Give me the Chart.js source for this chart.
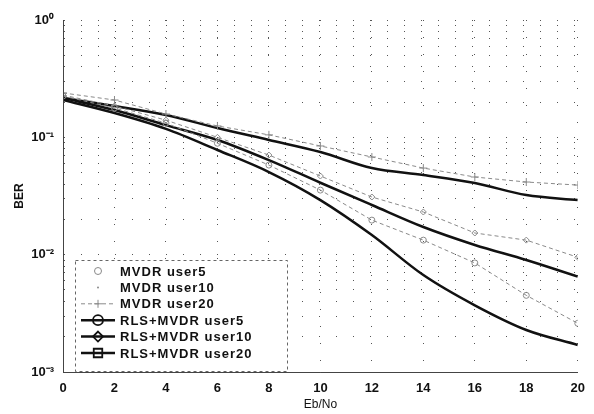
<!DOCTYPE html>
<html><head><meta charset="utf-8">
<script src="https://cdn.jsdelivr.net/npm/chart.js@4/dist/chart.umd.min.js"></script>
<style>html,body{margin:0;padding:0;background:#fff;} #wrap{width:594px;height:414px;position:relative;}</style>
</head><body><div id="wrap"><canvas id="c" width="594" height="414"></canvas></div>
<script>
// ---- data ----
const ebno = [0, 2, 4, 6, 8, 10, 12, 14, 16, 18, 20];
const mvdrUser5  = [0.225, 0.178, 0.132, 0.089, 0.058, 0.0355, 0.0197, 0.0133, 0.0085, 0.0045, 0.0026];
const mvdrUser10 = [0.229, 0.185, 0.140, 0.100, 0.0706, 0.0468, 0.031, 0.0231, 0.0153, 0.0133, 0.0095];
const mvdrUser20 = [0.239, 0.208, 0.158, 0.125, 0.105, 0.0844, 0.068, 0.0547, 0.0459, 0.0416, 0.0392];
const rlsUser5   = [0.208, 0.161, 0.118, 0.078, 0.0506, 0.0292, 0.0147, 0.0067, 0.0037, 0.00228, 0.0017];
const rlsUser10  = [0.216, 0.171, 0.127, 0.095, 0.064, 0.041, 0.0265, 0.0172, 0.0121, 0.009, 0.0065];
const rlsUser20  = [0.216, 0.185, 0.155, 0.120, 0.095, 0.075, 0.0547, 0.0477, 0.0408, 0.0322, 0.0292];
const xTickValues = [0, 2, 4, 6, 8, 10, 12, 14, 16, 18, 20];
const yDecades = [0.001, 0.01, 0.1, 1];
const yDecadeLabels = ['10\u207B\u00B3', '10\u207B\u00B2', '10\u207B\u00B9', '10\u2070'];
const seriesNames = ['MVDR user5', 'MVDR user10', 'MVDR user20', 'RLS+MVDR user5', 'RLS+MVDR user10', 'RLS+MVDR user20'];
const xTitle = 'Eb/No';
const yTitle = 'BER';

// ---- helpers ----
const pts = arr => arr.map((v, i) => ({x: ebno[i], y: v}));
const FONT = "'Liberation Sans', Arial, sans-serif";
const THIN = '#8a8a8a';

function drawMarker(ctx, style, r, x, y) {
  ctx.beginPath();
  if (style === 'circle') { ctx.arc(x, y, r, 0, Math.PI * 2); }
  else if (style === 'rectRot') { ctx.moveTo(x, y - r); ctx.lineTo(x + r, y); ctx.lineTo(x, y + r); ctx.lineTo(x - r, y); ctx.closePath(); }
  else if (style === 'rect') { ctx.rect(x - r * 0.85, y - r * 0.85, r * 1.7, r * 1.7); }
  else if (style === 'cross') { ctx.moveTo(x - r, y); ctx.lineTo(x + r, y); ctx.moveTo(x, y - r); ctx.lineTo(x, y + r); }
  else if (style === 'dot') { ctx.arc(x, y, r, 0, Math.PI * 2); ctx.fillStyle = ctx.strokeStyle; ctx.fill(); return; }
  ctx.stroke();
}

const boxLegend = {
  id: 'boxLegend',
  afterDraw(chart) {
    const ctx = chart.ctx, a = chart.chartArea;
    const x0 = a.left + 12, y0 = a.top + 240, w = 212, h = a.bottom - (a.top + 240);
    ctx.save();
    ctx.fillStyle = '#fff';
    ctx.fillRect(x0, y0, w, h);
    ctx.setLineDash([3, 3]);
    ctx.strokeStyle = '#666';
    ctx.lineWidth = 1;
    ctx.strokeRect(x0 + 0.5, y0 + 0.5, w, h - 1);
    chart.data.datasets.forEach((ds, i) => {
      const cy = y0 + 11 + i * 16.4;
      const cx = x0 + 23;
      ctx.strokeStyle = ds.borderColor;
      ctx.lineWidth = ds.borderWidth;
      ctx.setLineDash(ds.borderDash || []);
      if (ds.legendLine) {
        ctx.beginPath(); ctx.moveTo(cx - 17, cy); ctx.lineTo(cx + 17, cy); ctx.stroke();
      }
      ctx.setLineDash([]);
      ctx.lineWidth = ds.legendMarkerWidth;
      drawMarker(ctx, ds.legendMarker, ds.legendMarkerR, cx, cy);
      ctx.fillStyle = '#111';
      ctx.font = 'bold 13px ' + FONT;
      ctx.textBaseline = 'middle';
      ctx.textAlign = 'left';
      ctx.letterSpacing = '1px';
      ctx.fillText(ds.label, x0 + 45, cy + 1);
    });
    ctx.restore();
  }
};

const datasets = [
  {label: seriesNames[0], data: pts(mvdrUser5), borderColor: THIN, borderWidth: 1, borderDash: [4, 3],
   pointStyle: 'circle', pointRadius: 3, pointBorderColor: THIN, pointBackgroundColor: 'rgba(0,0,0,0)', pointBorderWidth: 1,
   legendMarker: 'circle', legendMarkerR: 3.5, legendMarkerWidth: 1, legendLine: false},
  {label: seriesNames[1], data: pts(mvdrUser10), borderColor: THIN, borderWidth: 1, borderDash: [4, 3],
   pointStyle: 'rectRot', pointRadius: 3, pointBorderColor: THIN, pointBackgroundColor: 'rgba(0,0,0,0)', pointBorderWidth: 1,
   legendMarker: 'dot', legendMarkerR: 1, legendMarkerWidth: 1, legendLine: false},
  {label: seriesNames[2], data: pts(mvdrUser20), borderColor: THIN, borderWidth: 1, borderDash: [4, 3],
   pointStyle: 'cross', pointRadius: 4, pointBorderColor: THIN, pointBackgroundColor: 'rgba(0,0,0,0)', pointBorderWidth: 1,
   legendMarker: 'cross', legendMarkerR: 4, legendMarkerWidth: 1, legendLine: true},
  {label: seriesNames[3], data: pts(rlsUser5), borderColor: '#111', borderWidth: 2.5, pointRadius: 0, cubicInterpolationMode: 'monotone',
   legendMarker: 'circle', legendMarkerR: 5, legendMarkerWidth: 1.8, legendLine: true},
  {label: seriesNames[4], data: pts(rlsUser10), borderColor: '#111', borderWidth: 2.5, pointRadius: 0, cubicInterpolationMode: 'monotone',
   legendMarker: 'rectRot', legendMarkerR: 5, legendMarkerWidth: 1.8, legendLine: true},
  {label: seriesNames[5], data: pts(rlsUser20), borderColor: '#111', borderWidth: 2.5, pointRadius: 0, cubicInterpolationMode: 'monotone',
   legendMarker: 'rect', legendMarkerR: 5, legendMarkerWidth: 1.8, legendLine: true}
];

const yGridValues = [];
yDecades.slice(0, 3).forEach(d => { for (let k = 1; k <= 9; k++) yGridValues.push(+(d * k).toPrecision(3)); });
yGridValues.push(1);

new Chart(document.getElementById('c'), {
  type: 'line',
  data: {datasets},
  options: {
    responsive: false,
    animation: false,
    devicePixelRatio: 1,
    layout: {padding: {top: 20, right: 16, left: 0, bottom: 0}},
    plugins: {legend: {display: false}, tooltip: {enabled: false}},
    elements: {line: {tension: 0, fill: false}},
    scales: {
      x: {
        type: 'linear', min: 0, max: 20,
        afterBuildTicks: s => { s.ticks = xTickValues.map(v => ({value: v})); },
        afterFit: s => { s.height = 42; },
        ticks: {color: '#111', font: {family: FONT, size: 13, weight: 'bold'}, padding: 9, autoSkip: false, maxRotation: 0},
        grid: {color: '#555', lineWidth: 1, drawTicks: false},
        border: {display: true, color: '#444', width: 1, dash: [1, 16]},
        title: {display: true, text: xTitle, color: '#111', font: {family: FONT, size: 12}, padding: {top: 0, bottom: 2}}
      },
      y: {
        type: 'logarithmic', min: 0.001, max: 1,
        afterBuildTicks: s => { s.ticks = yGridValues.map(v => ({value: v})); },
        afterFit: s => { s.width = 63; },
        ticks: {
          color: '#111', font: {family: FONT, size: 13, weight: 'bold'}, padding: 9, autoSkip: false,
          callback: v => { const i = yDecades.findIndex(d => Math.abs(d - v) < d * 1e-6); return i >= 0 ? yDecadeLabels[i] : ''; }
        },
        grid: {color: '#555', lineWidth: 1, drawTicks: false},
        border: {display: true, color: '#444', width: 1, dash: [1, 16]},
        title: {display: true, text: yTitle, color: '#111', font: {family: FONT, size: 12, weight: 'bold'}, padding: {top: 12, bottom: 0}}
      }
    }
  },
  plugins: [boxLegend, {
    id: 'axesLines',
    afterDatasetsDraw(chart) {
      const ctx = chart.ctx, a = chart.chartArea;
      ctx.save();
      ctx.strokeStyle = '#444'; ctx.lineWidth = 1; ctx.setLineDash([]);
      ctx.beginPath();
      ctx.moveTo(a.left + 0.5, a.top); ctx.lineTo(a.left + 0.5, a.bottom + 0.5);
      ctx.lineTo(a.right, a.bottom + 0.5);
      ctx.stroke();
      ctx.restore();
    }
  }]
});
</script>
</body></html>
